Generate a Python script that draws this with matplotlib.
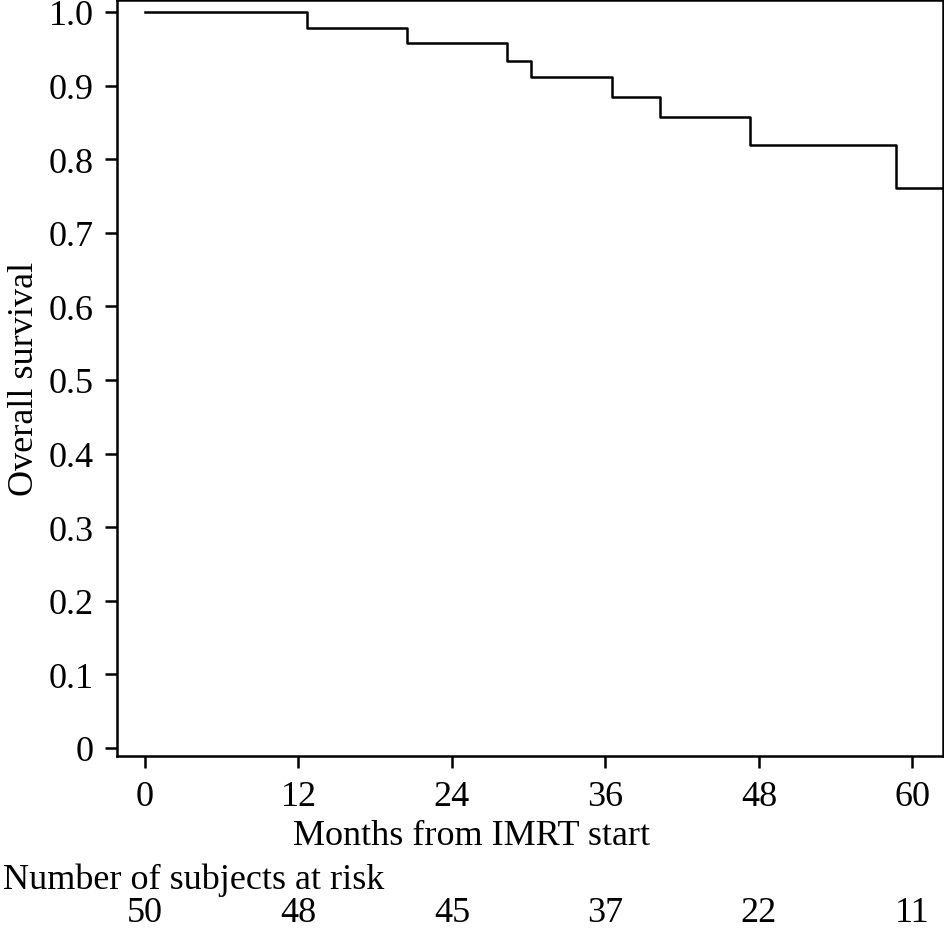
import matplotlib
matplotlib.use('Agg')
import matplotlib.pyplot as plt
import matplotlib.transforms as mtransforms

# Kaplan-Meier step values
event_months = [0, 12.7, 20.5, 28.3, 30.2, 36.5, 40.3, 47.3, 58.7, 62.4]
survival = [1.0, 0.978, 0.958, 0.934, 0.911, 0.885, 0.857, 0.819, 0.761, 0.761]

x_ticks = [0, 12, 24, 36, 48, 60]
y_ticks = [0, 0.1, 0.2, 0.3, 0.4, 0.5, 0.6, 0.7, 0.8, 0.9, 1.0]
y_tick_labels = ['0', '0.1', '0.2', '0.3', '0.4', '0.5', '0.6', '0.7', '0.8', '0.9', '1.0']
at_risk = [50, 48, 45, 37, 22, 11]

plt.rcParams['font.family'] = ['Liberation Serif', 'DejaVu Serif']
plt.rcParams['font.size'] = 26

fig = plt.figure(figsize=(9.45, 9.29), dpi=100)
ax = fig.add_axes([117 / 945, 1 - 757 / 929, 826 / 945, 756 / 929])

ax.step(event_months, survival, where='post', color='black', linewidth=1.8)

ax.set_xlim(-2.19, 62.4)
ax.set_ylim(-0.0109, 1.0163)
ax.set_xticks(x_ticks)
ax.set_yticks(y_ticks)
ax.set_yticklabels(y_tick_labels)
ax.tick_params(direction='out', length=8.5, width=1.8, color='black')
ax.tick_params(axis='x', pad=9)
ax.tick_params(axis='y', pad=8)
for spine in ax.spines.values():
    spine.set_linewidth(1.8)

ax.set_ylabel('Overall survival', labelpad=6)

fig.text(472 / 945, 1 - 837 / 929, 'Months from IMRT start', ha='center', va='center')
fig.text(3 / 945, 1 - 880 / 929, 'Number of subjects at risk', ha='left', va='center')

trans = mtransforms.blended_transform_factory(ax.transData, fig.transFigure)
for month, n in zip(x_ticks, at_risk):
    fig.text(month, 1 - 914 / 929, str(n), ha='center', va='center', transform=trans)

fig.savefig('out.png', dpi=100)
